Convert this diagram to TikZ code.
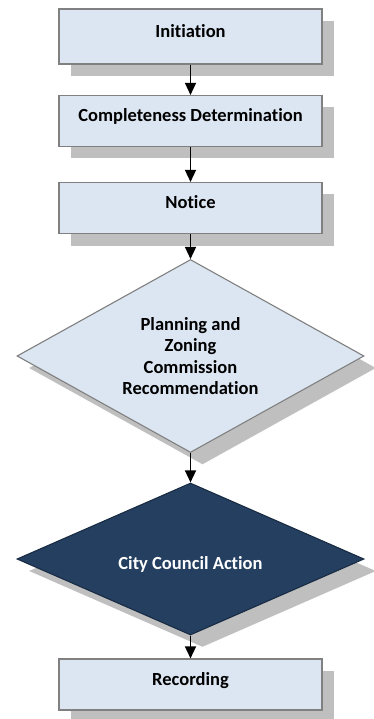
\documentclass[tikz,border=0pt]{standalone}
\usepackage{fontspec}
\setmainfont{Carlito}[RawFeature=-liga]
\usepackage{xcolor}
\usetikzlibrary{arrows.meta}
\usetikzlibrary{shapes.geometric, shadows}
\definecolor{boxblue}{RGB}{220, 230, 242}
\definecolor{boxline}{RGB}{128, 128, 128}
\definecolor{navy}{RGB}{36, 63, 96}
\definecolor{shade}{RGB}{191, 191, 191}

\tikzset{
  stepbox/.style={rectangle, draw=boxline, line width=1.1pt, fill=boxblue,
    minimum width=263pt, minimum height=51pt, inner sep=0pt,
    text height=13pt, text depth=11pt,
    font=\fontsize{18.5}{21.5}\selectfont\bfseries,
    drop shadow={shadow xshift=12pt, shadow yshift=-12pt, fill=shade, opacity=1}},
  decision/.style={diamond, aspect=1.8, draw=boxline, line width=1.1pt, fill=boxblue,
    minimum width=347pt, inner sep=0pt, align=center,
    font=\fontsize{18.5}{21.5}\selectfont\bfseries,
    drop shadow={shadow xshift=12pt, shadow yshift=-12pt, fill=shade, opacity=1}},
  flow/.style={-{Triangle[width=11pt, length=12pt]}, line width=1.4pt, black}
}

\begin{document}
\begin{tikzpicture}[x=1pt, y=-1pt]

 \useasboundingbox (0,0) rectangle (373,719);

 \coordinate (C1) at (190.5,36.5);
 \coordinate (C2) at (190.5,121);
 \coordinate (C3) at (190.5,208);
 \coordinate (C4) at (190.5,356);
 \coordinate (C5) at (190.5,559);
 \coordinate (C6) at (190.5,684.5);

 \node[stepbox, minimum height=55pt] (init) at (C1) {Initiation};
 \node[stepbox] (complete) at (C2) {Completeness Determination};
 \node[stepbox] (notice) at (C3) {Notice};
 \node[decision, minimum height=193pt] (pzc) at (C4)
   {Planning and\\Zoning\\Commission\\Recommendation};
 \node[decision, minimum height=152pt, fill=navy, draw=navy!70!black, text=white,
   text height=25pt, text depth=4pt] (council) at (C5) {City Council Action};
 \node[stepbox] (record) at (C6) {Recording};

 % connectors
 \draw[flow] (init) -- (complete);
 \draw[flow] (complete) -- (notice);
 \draw[flow] (notice) -- (pzc);
 \draw[flow] (pzc) -- (council);
 \draw[flow] (council) -- (record);

\end{tikzpicture}
\end{document}
